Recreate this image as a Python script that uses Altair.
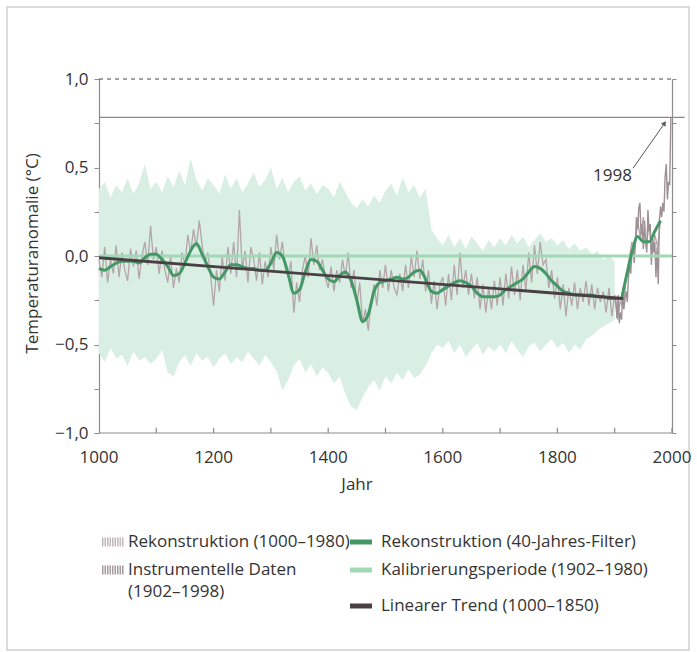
import altair as alt
import pandas as pd

FONT = "Open Sans"
TXT = "#333333"
AXC = "#8c8c8c"

# ---------------- data ----------------
band_years = list(range(1000, 1901, 10))
band_upper = [
    0.38, 0.42, 0.33, 0.40, 0.36, 0.44, 0.35, 0.41, 0.52, 0.38,
    0.42, 0.36, 0.45, 0.39, 0.48, 0.40, 0.55, 0.43, 0.37, 0.44,
    0.40, 0.35, 0.46, 0.38, 0.44, 0.36, 0.41, 0.47, 0.39, 0.43,
    0.50, 0.38, 0.44, 0.36, 0.42, 0.45, 0.37, 0.41, 0.35, 0.40,
    0.38, 0.33, 0.42, 0.36, 0.30, 0.27, 0.32, 0.28, 0.34, 0.30,
    0.37, 0.41, 0.34, 0.44, 0.36, 0.40, 0.33, 0.38, 0.15, 0.10,
    0.06, 0.12, 0.05, 0.10, 0.04, 0.11, 0.07, 0.03, 0.09, 0.05,
    0.10, 0.06, 0.12, 0.07, 0.11, 0.05, 0.09, 0.13, 0.08, 0.10,
    0.06, 0.09, 0.04, 0.07, 0.03, 0.05, 0.01, 0.03, -0.02, 0.00,
    -0.03,
]
band_lower = [
    -0.55, -0.60, -0.52, -0.58, -0.56, -0.62, -0.54, -0.59, -0.57, -0.61,
    -0.58, -0.53, -0.66, -0.68, -0.60, -0.56, -0.62, -0.55, -0.59, -0.57,
    -0.63, -0.58, -0.55, -0.61, -0.57, -0.60, -0.54, -0.58, -0.62, -0.56,
    -0.60, -0.65, -0.76, -0.70, -0.62, -0.58, -0.66, -0.61, -0.68, -0.63,
    -0.66, -0.72, -0.68, -0.78, -0.85, -0.87, -0.80, -0.74, -0.70, -0.76,
    -0.68, -0.72, -0.66, -0.70, -0.64, -0.69, -0.67, -0.62, -0.55, -0.50,
    -0.52, -0.48, -0.55, -0.50, -0.57, -0.53, -0.49, -0.56, -0.51, -0.54,
    -0.50, -0.55, -0.48, -0.53, -0.57, -0.51, -0.49, -0.54, -0.50, -0.47,
    -0.52, -0.49, -0.55, -0.50, -0.53, -0.47, -0.45, -0.42, -0.40, -0.38,
    -0.36,
]

recon_years = list(range(1000, 1981, 5))
recon_values = [
    -0.02, -0.12, 0.05, -0.15, -0.02, -0.10, 0.06, -0.12, 0.02, -0.08,
    -0.14, 0.04, -0.06, 0.03, -0.13, 0.00, 0.08, -0.05, 0.17, -0.02,
    0.05, -0.10, 0.03, -0.08, -0.15, 0.00, -0.18, -0.07, -0.15, 0.02,
    -0.05, 0.12, 0.02, 0.15, 0.05, 0.20, 0.06, -0.04, 0.02, -0.12,
    -0.28, -0.08, -0.20, 0.00, -0.14, 0.05, -0.10, 0.08, -0.12, 0.26,
    -0.08, 0.03, -0.15, 0.05, -0.02, -0.14, 0.02, -0.16, -0.03, -0.12,
    0.05, -0.08, 0.12, -0.02, 0.08, -0.06, -0.12, -0.03, -0.32, -0.15,
    -0.26, -0.08, 0.00, -0.12, 0.10, -0.05, 0.06, -0.08, -0.02, -0.12,
    -0.18, -0.06, -0.20, -0.08, -0.15, -0.02, -0.12, 0.02, -0.18, -0.08,
    -0.28, -0.15, -0.38, -0.30, -0.42, -0.25, -0.16, -0.28, -0.08, -0.18,
    -0.05, -0.20, -0.08, -0.18, -0.22, -0.10, -0.20, -0.05, -0.18, 0.00,
    -0.12, 0.03, -0.13, -0.02, -0.20, -0.08, -0.27, -0.14, -0.30, -0.16,
    -0.12, -0.28, -0.10, -0.25, -0.05, -0.22, 0.02, -0.18, -0.08, -0.22,
    -0.10, -0.24, -0.12, -0.30, -0.16, -0.32, -0.18, -0.30, -0.14, -0.28,
    -0.12, -0.28, -0.10, -0.24, -0.06, -0.22, -0.08, -0.25, -0.05, -0.20,
    0.02, -0.15, 0.06, -0.10, 0.08, -0.05, -0.02, -0.18, -0.08, -0.24,
    -0.12, -0.30, -0.16, -0.34, -0.18, -0.28, -0.15, -0.30, -0.18, -0.26,
    -0.14, -0.28, -0.16, -0.30, -0.18, -0.26, -0.20, -0.32, -0.18, -0.34,
    -0.22, -0.36, -0.25, -0.30, -0.12, -0.02, 0.08, 0.02, 0.20, 0.10,
    0.22, 0.05, 0.18, 0.00, 0.12, 0.05, 0.20,
]

filter_years = list(range(1000, 1981, 10))
filter_values = [
    -0.07, -0.08, -0.06, -0.04, -0.03, -0.03, -0.03, -0.04, -0.01, 0.01,
    0.01, -0.02, -0.06, -0.11, -0.10, -0.04, 0.03, 0.07, 0.01, -0.06,
    -0.12, -0.13, -0.09, -0.05, -0.05, -0.06, -0.07, -0.07, -0.08, -0.08,
    -0.04, 0.02, 0.00, -0.10, -0.21, -0.19, -0.09, -0.02, -0.03, -0.08,
    -0.13, -0.145, -0.11, -0.09, -0.14, -0.25, -0.37, -0.33, -0.20, -0.15,
    -0.14, -0.13, -0.12, -0.13, -0.12, -0.09, -0.08, -0.13, -0.20, -0.21,
    -0.19, -0.17, -0.15, -0.14, -0.15, -0.17, -0.21, -0.23, -0.23, -0.23,
    -0.22, -0.19, -0.17, -0.15, -0.13, -0.09, -0.06, -0.07, -0.10, -0.14,
    -0.17, -0.20, -0.21, -0.22, -0.22, -0.22, -0.22, -0.23, -0.23, -0.24,
    -0.24, -0.24, -0.12, 0.02, 0.11, 0.08, 0.08, 0.14, 0.20,
]

instr_years = list(range(1902, 1999, 2))
instr_values = [
    -0.25, -0.35, -0.22, -0.38, -0.32, -0.36, -0.18, -0.30, -0.24, -0.20,
    -0.26, -0.12, -0.05, -0.10, 0.02, 0.05, -0.04, 0.08, 0.22, 0.15,
    0.27, 0.30, 0.12, 0.18, 0.04, 0.20, 0.08, 0.02, 0.26, 0.14,
    0.18, -0.05, 0.10, 0.02, 0.08, -0.12, 0.05, -0.16, 0.20, 0.28,
    0.22, 0.30, 0.25, 0.45, 0.52, 0.32, 0.42, 0.40, 0.78,
]

trend_years = [1000, 1915]
trend_values = [-0.01, -0.24]

peak_1998 = 0.783
x_label_years = [1000, 1200, 1400, 1600, 1800, 2000]
x_minor_ticks = [1100, 1200, 1300, 1400, 1500, 1600, 1700, 1800, 1900, 2000]
y_tick_values = [-1, -0.75, -0.5, -0.25, 0, 0.25, 0.5, 0.75, 1]

legend_labels = [
    "Rekonstruktion (1000–1980)",
    "Instrumentelle Daten",
    "(1902–1998)",
    "Rekonstruktion (40-Jahres-Filter)",
    "Kalibrierungsperiode (1902–1980)",
    "Linearer Trend (1000–1850)",
]

C_BAND = "#d9efe3"
C_RECON = "#b3a5a9"
C_INSTR = "#9d9195"
C_FILTER = "#449866"
C_ZERO = "#a3d8b7"
C_TREND = "#4a4043"

W, H = 573, 354

# ---------------- tables ----------------
band_df = pd.DataFrame({"year": band_years, "upper": band_upper, "lower": band_lower})
recon_df = pd.DataFrame({"year": recon_years, "value": recon_values})
filter_df = pd.DataFrame({"year": filter_years, "value": filter_values})
instr_df = pd.DataFrame({"year": instr_years, "value": instr_values})
trend_df = pd.DataFrame({"year": trend_years, "value": trend_values})
ticks_df = pd.DataFrame({"year": x_minor_ticks})
xlab_df = pd.DataFrame({"year": x_label_years})
one = pd.DataFrame({"k": [0]})

xs = alt.Scale(domain=[1000, 2000], nice=False, zero=False)
ys = alt.Scale(domain=[-1, 1], nice=False, zero=False)

y_axis = alt.Axis(
    orient="left", values=y_tick_values,
    labelExpr="abs(datum.value*2 - round(datum.value*2)) < 0.001 ? replace(format(datum.value, '.1f'), '.', ',') : ''",
    tickSize=5, tickColor=AXC, domainColor=AXC, domainWidth=1.2, labelPadding=6,
    labelFont=FONT, labelFontSize=17, labelColor=TXT, labelFlush=False, grid=False,
    title="Temperaturanomalie (°C)", titleFont=FONT, titleFontSize=17,
    titleFontWeight="normal", titleColor=TXT, titleX=-67, titleY=174,
    titleAngle=270, titleAlign="center", titleBaseline="middle",
)
y_axis_right = alt.Axis(
    orient="right", values=y_tick_values, labels=False, tickSize=4,
    tickColor=AXC, domainColor=AXC, domainWidth=1.2, grid=False, title=None,
)

def X(field):
    return alt.X(field, scale=xs, axis=None)

def Y(field):
    return alt.Y(field, scale=ys, axis=None)

band = alt.Chart(band_df).mark_area(color=C_BAND, opacity=1).encode(
    x=X("year:Q"),
    y=alt.Y("lower:Q", scale=ys, axis=y_axis),
    y2="upper:Q",
)
recon = alt.Chart(recon_df).mark_line(color=C_RECON, strokeWidth=1.3).encode(
    x=X("year:Q"), y=Y("value:Q"))
instr = alt.Chart(instr_df).mark_line(color=C_INSTR, strokeWidth=1.4).encode(
    x=X("year:Q"), y=Y("value:Q"))
zero = alt.Chart(one).mark_rule(color=C_ZERO, strokeWidth=3).encode(
    x=alt.datum(1000, scale=xs, axis=None),
    x2=alt.datum(2000),
    y=alt.datum(0, scale=ys, axis=y_axis_right),
)
filt = alt.Chart(filter_df).mark_line(color=C_FILTER, strokeWidth=3, interpolate="monotone").encode(
    x=X("year:Q"), y=Y("value:Q"))
trend = alt.Chart(trend_df).mark_line(color=C_TREND, strokeWidth=2.8).encode(
    x=X("year:Q"), y=Y("value:Q"))
dashed = alt.Chart(one).mark_rule(color="#444444", strokeWidth=1, strokeDash=[4, 4]).encode(
    x=alt.datum(1000, scale=xs, axis=None), x2=alt.datum(2000),
    y=alt.datum(1.0, scale=ys, axis=None),
)
peak_line = alt.Chart(one).mark_rule(color="#8a8a8a", strokeWidth=1.3).encode(
    x=alt.datum(1000, scale=xs, axis=None), x2=alt.datum(2022),
    y=alt.datum(peak_1998, scale=ys, axis=None),
)
# bottom axis: domain line, inward ticks, labels and title
x_domain = alt.Chart(one).mark_rule(color=AXC, strokeWidth=1.2).encode(
    x=alt.datum(1000, scale=xs, axis=None), x2=alt.datum(2000),
    y=alt.datum(-1.0, scale=ys, axis=None),
)
bottom_ticks = alt.Chart(ticks_df).mark_rule(color=AXC, strokeWidth=1.2).encode(
    x=X("year:Q"),
    y=alt.datum(-1.0, scale=ys, axis=None),
    y2=alt.datum(-0.97),
)
x_labels = alt.Chart(xlab_df).mark_text(
    align="center", baseline="middle", font=FONT, fontSize=17, color=TXT
).encode(
    x=X("year:Q"), y=alt.value(H + 25), text=alt.Text("year:Q", format="d")
)
x_title = alt.Chart(one).mark_text(
    text="Jahr", align="center", baseline="middle", font=FONT, fontSize=17, color=TXT
).encode(x=alt.value(258), y=alt.value(H + 52))

ann_text = alt.Chart(one).mark_text(
    text="1998", align="right", baseline="middle", font=FONT, fontSize=17, color=TXT
).encode(x=alt.datum(1930, scale=xs, axis=None), y=alt.datum(0.45, scale=ys, axis=None))
ann_line = alt.Chart(one).mark_rule(color="#555555", strokeWidth=1).encode(
    x=alt.datum(1932, scale=xs, axis=None), x2=alt.datum(1986),
    y=alt.datum(0.496, scale=ys, axis=None), y2=alt.datum(0.745),
)
ann_head = alt.Chart(one).mark_point(
    shape="triangle-up", filled=True, size=30, angle=35, color="#555555", opacity=1
).encode(x=alt.datum(1987, scale=xs, axis=None), y=alt.datum(0.75, scale=ys, axis=None))

# ---------------- legend (drawn below plot) ----------------
def leg_text(label, px, py):
    return alt.Chart(one).mark_text(
        text=label, align="left", baseline="middle", font=FONT, fontSize=17, color=TXT
    ).encode(x=alt.value(px), y=alt.value(py))

def leg_icon(color, px, py, width, dash=None):
    kw = dict(color=color, strokeWidth=width)
    if dash:
        kw["strokeDash"] = dash
    return alt.Chart(one).mark_rule(**kw).encode(
        x=alt.value(px), x2=alt.value(px + 22), y=alt.value(py)
    )

legend_layers = [
    leg_icon("#c2b7ba", 3, 463, 9, [1.5, 1]),
    leg_text(legend_labels[0], 29, 463),
    leg_icon("#a69b9f", 3, 491, 9, [1.5, 1]),
    leg_text(legend_labels[1], 29, 491),
    leg_text(legend_labels[2], 29, 513),
    leg_icon(C_FILTER, 251, 463, 5),
    leg_text(legend_labels[3], 282, 463),
    leg_icon(C_ZERO, 251, 491, 5),
    leg_text(legend_labels[4], 282, 491),
    leg_icon(C_TREND, 251, 527, 5),
    leg_text(legend_labels[5], 282, 527),
]

frame = alt.Chart(one).mark_rect(filled=False, stroke="#cfcfcf", strokeWidth=1.5).encode(
    x=alt.value(-92), x2=alt.value(590), y=alt.value(-72), y2=alt.value(571)
)

chart = alt.layer(
    band, frame, recon, instr, zero, filt, trend, dashed, peak_line,
    x_domain, bottom_ticks, x_labels, x_title,
    ann_line, ann_head, ann_text, *legend_layers,
).resolve_axis(y="independent").properties(
    width=W, height=H,
    padding={"left": 99, "top": 79, "right": 25, "bottom": 219},
    autosize=alt.AutoSizeParams(type="none"),
    background="white",
).configure_view(stroke=None)

chart.save("out.html", embed_options={"renderer": "svg", "actions": False})
